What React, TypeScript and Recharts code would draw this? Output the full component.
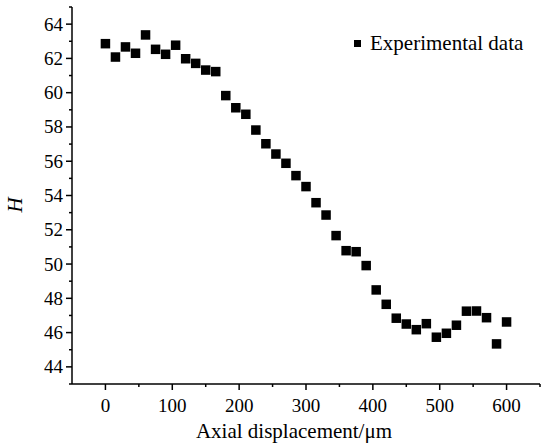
import { Scatter, ScatterChart, XAxis, YAxis } from 'recharts';

const displacement = [
  0, 15, 30, 45, 60, 75, 90, 105, 120, 135, 150, 165, 180, 195, 210, 225, 240,
  255, 270, 285, 300, 315, 330, 345, 360, 375, 390, 405, 420, 435, 450, 465,
  480, 495, 510, 525, 540, 555, 570, 585, 600,
];
const hValues = [
  62.86, 62.08, 62.67, 62.3, 63.37, 62.53, 62.24, 62.77, 61.98, 61.71, 61.32,
  61.23, 59.83, 59.12, 58.74, 57.82, 57.02, 56.42, 55.88, 55.16, 54.52, 53.58,
  52.86, 51.66, 50.78, 50.72, 49.91, 48.49, 47.65, 46.84, 46.5, 46.17, 46.52,
  45.73, 45.96, 46.43, 47.25, 47.26, 46.87, 45.34, 46.62,
];
const xTicks = [-50, 0, 50, 100, 150, 200, 250, 300, 350, 400, 450, 500, 550, 600, 650];
const yTicks = [43, 44, 45, 46, 47, 48, 49, 50, 51, 52, 53, 54, 55, 56, 57, 58, 59, 60, 61, 62, 63, 64, 65];

const points = displacement.map((x, i) => ({ x, y: hValues[i] }));

const FONT = "'Liberation Serif', 'Times New Roman', serif";
const textStyle = { fontFamily: FONT };

const XTick = ({ x, y, payload }: any) => {
  const v = payload.value;
  const major = v % 100 === 0 && v >= 0 && v <= 600;
  if (v < 0) return null;
  return (
    <g>
      <line x1={x} x2={x} y1={y} y2={y + (major ? 6 : 3)} stroke='#000' strokeWidth={1.5} />
      {major && (
        <text x={x} y={y + 28} textAnchor='middle' fontSize={19} style={textStyle} fill='#000'>
          {v}
        </text>
      )}
    </g>
  );
};

const YTick = ({ x, y, payload }: any) => {
  const v = payload.value;
  const major = v % 2 === 0;
  return (
    <g>
      <line x1={x - (major ? 6 : 3)} x2={x} y1={y} y2={y} stroke='#000' strokeWidth={1.5} />
      {major && (
        <text x={x - 9} y={y + 6.5} textAnchor='end' fontSize={19} style={textStyle} fill='#000'>
          {v}
        </text>
      )}
    </g>
  );
};

const SquareDot = ({ cx, cy }: any) => (
  <rect x={cx - 4.75} y={cy - 4.75} width={9.5} height={9.5} fill='#000' />
);

export default function App() {
  return (
    <div style={{ position: 'absolute', left: 0, top: 0, width: 541, height: 446 }}>
      <ScatterChart width={541} height={446} margin={{ top: 7, right: 1, bottom: 0, left: 0 }}>
        <XAxis
          type='number'
          dataKey='x'
          domain={[-50, 650]}
          ticks={xTicks}
          interval={0}
          height={62}
          tickSize={0}
          tickMargin={0}
          tickLine={false}
          tick={<XTick />}
          axisLine={{ stroke: '#000', strokeWidth: 1.5 }}
          label={{
            content: () => (
              <text x={294} y={438} textAnchor='middle' fontSize={21} style={textStyle} fill='#000'>
                Axial displacement/μm
              </text>
            ),
          }}
        />
        <YAxis
          type='number'
          dataKey='y'
          domain={[43, 65]}
          ticks={yTicks}
          interval={0}
          width={72}
          tickSize={0}
          tickMargin={0}
          tickLine={false}
          tick={<YTick />}
          axisLine={{ stroke: '#000', strokeWidth: 1.5 }}
          label={{
            content: () => (
              <text
                x={22}
                y={205}
                transform='rotate(-90 22 205)'
                textAnchor='middle'
                fontSize={21}
                fontStyle='italic'
                style={textStyle}
                fill='#000'
              >
                H
              </text>
            ),
          }}
        />
        <Scatter name='Experimental data' data={points} fill='#000' shape={<SquareDot />} isAnimationActive={false} />
      </ScatterChart>
      <div
        style={{
          position: 'absolute',
          top: 31,
          left: 354,
          display: 'flex',
          alignItems: 'center',
          fontFamily: FONT,
          fontSize: 21,
          color: '#000',
          whiteSpace: 'nowrap',
        }}
      >
        <span style={{ display: 'inline-block', width: 7, height: 7, background: '#000', marginRight: 9 }} />
        <span>Experimental data</span>
      </div>
    </div>
  );
}
